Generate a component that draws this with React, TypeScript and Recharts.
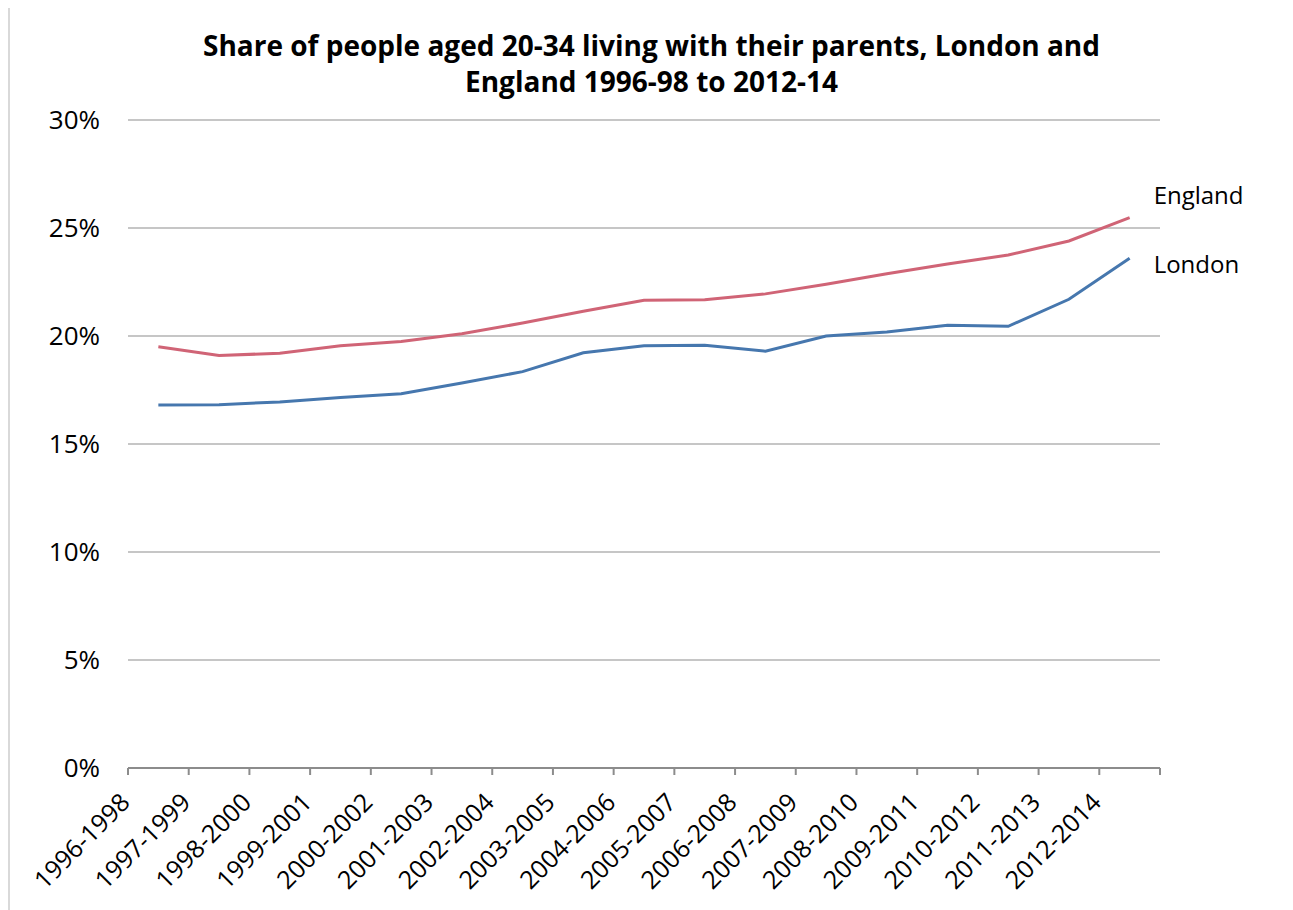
import React from "react";
import { LineChart, Line, XAxis, YAxis, CartesianGrid } from "recharts";

const periods = [
  "1996-1998", "1997-1999", "1998-2000", "1999-2001", "2000-2002", "2001-2003",
  "2002-2004", "2003-2005", "2004-2006", "2005-2007", "2006-2008", "2007-2009",
  "2008-2010", "2009-2011", "2010-2012", "2011-2013", "2012-2014",
];
const england = [19.5, 19.1, 19.2, 19.55, 19.75, 20.1, 20.6, 21.15, 21.65, 21.68, 21.95, 22.4, 22.88, 23.33, 23.75, 24.4, 25.48];
const london = [16.8, 16.82, 16.95, 17.15, 17.33, 17.82, 18.35, 19.22, 19.55, 19.57, 19.3, 20.0, 20.18, 20.5, 20.45, 21.7, 23.6];
const yTicks = [0, 5, 10, 15, 20, 25, 30];

const data = periods.map((p, i) => ({ period: p, England: england[i], London: london[i] }));

const FONT = "'Open Sans', 'Segoe UI', sans-serif";
const AXIS = "#8c8c8c";
const CHART_W = 1283;
const CHART_H = 900;
const MARGIN = { top: 112, right: 133, bottom: 139, left: 0 };
const Y_W = 118;
const plotW = CHART_W - MARGIN.right - MARGIN.left - Y_W;
const halfBand = plotW / periods.length / 2;

const last = periods.length - 1;

function endLabel(name: string, dy: number) {
  return (props: any) => {
    if (props.index !== last) return null;
    return (
      <text x={props.x + 24} y={props.y + dy} fontSize={24} fontFamily={FONT} fill="#000">
        {name}
      </text>
    );
  };
}

// excel-style: tick marks sit between categories, label under the category
function PeriodTick(props: any) {
  const { x, y, payload, index } = props;
  return (
    <g>
      <line x1={x - halfBand} x2={x - halfBand} y1={y} y2={y + 7} stroke={AXIS} strokeWidth={2} />
      {index === last && (
        <line x1={x + halfBand} x2={x + halfBand} y1={y} y2={y + 7} stroke={AXIS} strokeWidth={2} />
      )}
      <g transform={`translate(${x - 27},${y + 36})`}>
        <text textAnchor="end" transform="rotate(-45)" fontSize={25} fontFamily={FONT} fill="#000">
          {payload.value}
        </text>
      </g>
    </g>
  );
}

export default function App() {
  return (
    <div style={{ marginTop: -2, width: 1285, height: 904, overflow: "hidden" }}>
      <div
        style={{
          position: "relative",
          width: 1300,
          height: 920,
          borderTop: "2px solid #d9d9d9",
          borderLeft: "2px solid #d9d9d9",
          background: "#fff",
        }}
      >
        <div
          style={{
            position: "absolute",
            left: 0,
            top: 19,
            width: CHART_W,
            textAlign: "center",
            fontFamily: FONT,
            fontWeight: 700,
            fontSize: 28,
            lineHeight: "36px",
            color: "#000",
          }}
        >
          Share of people aged 20-34 living with their parents, London and
          <br />
          England 1996-98 to 2012-14
        </div>
        <LineChart width={CHART_W} height={CHART_H} data={data} margin={MARGIN}>
          <CartesianGrid vertical={false} stroke="#c6c6c6" strokeWidth={2} />
          <XAxis
            dataKey="period"
            height={1}
            padding={{ left: halfBand, right: halfBand }}
            axisLine={{ stroke: AXIS, strokeWidth: 2 }}
            tickLine={false}
            tickSize={0}
            tickMargin={0}
            interval={0}
            tick={<PeriodTick />}
          />
          <YAxis
            width={Y_W}
            domain={[0, 30]}
            ticks={yTicks}
            axisLine={false}
            tickLine={false}
            tickSize={0}
            tickMargin={28}
            tickFormatter={(v: number) => `${v}%`}
            tick={{ fontSize: 26, fontFamily: FONT, fill: "#000" }}
          />
          <Line
            dataKey="England"
            stroke="#d06476"
            strokeWidth={3}
            dot={false}
            isAnimationActive={false}
            label={endLabel("England", -14)}
          />
          <Line
            dataKey="London"
            stroke="#4677ae"
            strokeWidth={3}
            dot={false}
            isAnimationActive={false}
            label={endLabel("London", 15)}
          />
        </LineChart>
      </div>
    </div>
  );
}
